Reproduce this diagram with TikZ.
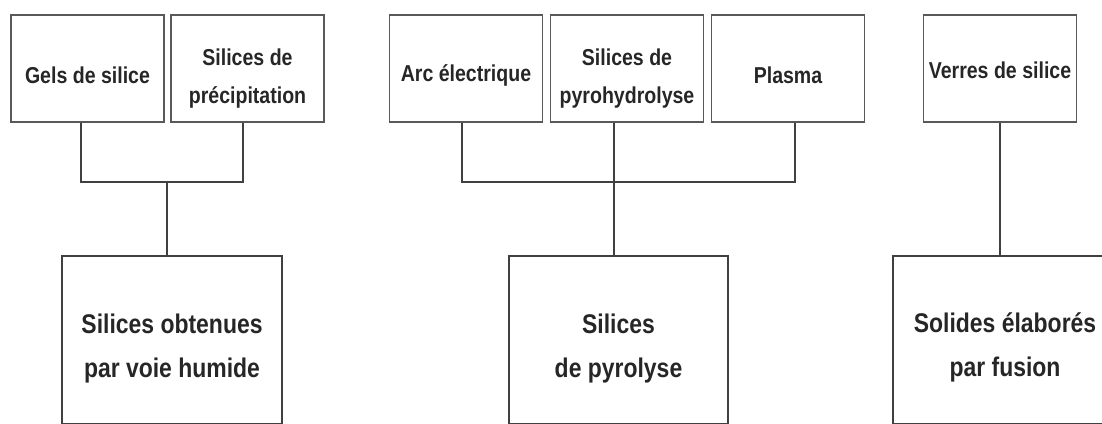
\documentclass[tikz,border=0pt]{standalone}
\usepackage{fontspec}
\newfontfamily\boxfont[FakeStretch=0.85]{Liberation Sans}
\usetikzlibrary{positioning}

\begin{document}
\begin{tikzpicture}[x=1pt, y=-1pt,
	topbox/.style={draw=black!65, line width=1.5pt, minimum width=153pt, minimum height=107pt, inner sep=0pt},
	basebox/.style={draw=black!75, line width=1.5pt, minimum height=168pt, inner sep=0pt},
	toptext/.style={font=\boxfont\bfseries\fontsize{23}{38}\selectfont, text=black!85, align=center},
	basetext/.style={font=\boxfont\bfseries\fontsize{27}{44}\selectfont, text=black!85, align=center},
	link/.style={draw=black!75, line width=1.2pt}]
	\useasboundingbox (0,0) rectangle (1102,423);
	% top row
	\node[topbox, label={[toptext, yshift=-7pt]center:Gels de silice}] (gels) at (87.5,68.5) {};
	\node[topbox, label={[toptext, yshift=-10pt]center:{Silices de\\précipitation}}] (precip) at (247.5,68.5) {};
	\node[topbox, label={[toptext, yshift=-7pt]center:Arc électrique}] (arc) at (466,68.5) {};
	\node[topbox, label={[toptext, yshift=-10pt]center:{Silices de\\pyrohydrolyse}}] (pyro) at (627,68.5) {};
	\node[topbox, label={[toptext, yshift=-7pt]center:Plasma}] (plasma) at (788,68.5) {};
	\node[topbox, label={[toptext, yshift=-2pt]center:Verres de silice}] (verres) at (1000,68.5) {};
	% bottom row
	\node[basebox, minimum width=220pt, label={[basetext, yshift=-9pt]center:{Silices obtenues\\par voie humide}}] (humide) at (172,340) {};
	\node[basebox, minimum width=219pt, label={[basetext, yshift=-9pt]center:{Silices\\de pyrolyse}}] (pyrolyse) at (618.5,340) {};
	\node[basebox, minimum width=224pt, label={[basetext, yshift=-7pt]center:{Solides élaborés\\par fusion}}] (fusion) at (1005,340) {};
	% connectors
	\coordinate (busA) at (167,182);
	\coordinate (busB) at (614,182);
	\draw[link] ([xshift=-6.5pt]gels.south) |- (busA) -| ([xshift=-4.5pt]precip.south);
	\draw[link] (busA) -- (busA |- humide.north);
	\draw[link] ([xshift=-4pt]arc.south) |- (busB) -| ([xshift=7pt]plasma.south);
	\draw[link] (busB |- pyro.south) -- (busB |- pyrolyse.north);
	\draw[link] (verres.south) -- (verres.south |- fusion.north);
\end{tikzpicture}
\end{document}
